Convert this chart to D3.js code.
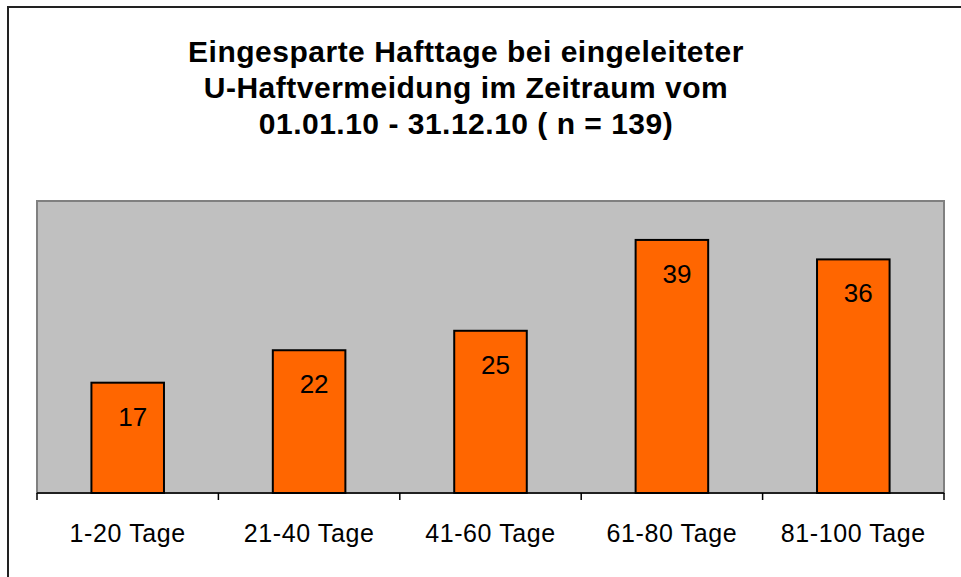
<!DOCTYPE html>
<html lang="de">
<head>
    <meta charset="UTF-8">
    <title>Eingesparte Hafttage</title>
    <script src="https://d3js.org/d3.v7.min.js"></script>
    <style>
        body { margin: 0; background: #fff; }
        svg { display: block; font-family: Arial, "Liberation Sans", sans-serif; }
    </style>
</head>
<body>
    <svg id="chart" width="961" height="577"></svg>
    <script>
        // Data
        var categories = ["1-20 Tage", "21-40 Tage", "41-60 Tage", "61-80 Tage", "81-100 Tage"];
        var values = [17, 22, 25, 39, 36];
        var titleLines = [
            "Eingesparte Hafttage bei eingeleiteter",
            "U-Haftvermeidung im Zeitraum vom",
            "01.01.10 - 31.12.10 ( n = 139)"
        ];

        var svg = d3.select("#chart");

        // outer frame (only top + left visible in the picture)
        svg.append("rect")
            .attr("x", 8).attr("y", 7)
            .attr("width", 1000).attr("height", 600)
            .attr("fill", "none")
            .attr("stroke", "#222")
            .attr("stroke-width", 2);

        // plot area
        var plotLeft = 37, plotRight = 944, plotTop = 201, plotBottom = 493;

        var x = d3.scaleBand()
            .domain(categories)
            .range([plotLeft, plotRight]);

        var y = d3.scaleLinear()
            .domain([0, 45])
            .range([plotBottom, plotTop]);

        svg.append("rect")
            .attr("x", plotLeft).attr("y", plotTop)
            .attr("width", plotRight - plotLeft).attr("height", plotBottom - plotTop)
            .attr("fill", "#c0c0c0")
            .attr("stroke", "#808080")
            .attr("stroke-width", 2);

        // bars
        var barW = x.bandwidth() * 0.4;
        svg.append("g")
            .selectAll("rect")
            .data(values)
            .enter()
            .append("rect")
            .attr("x", function(d, i) { return x(categories[i]) + (x.bandwidth() - barW) / 2; })
            .attr("y", function(d) { return y(d); })
            .attr("width", barW)
            .attr("height", function(d) { return plotBottom - y(d); })
            .attr("fill", "#ff6600")
            .attr("stroke", "#000")
            .attr("stroke-width", 2);

        // value labels
        svg.append("g")
            .selectAll("text")
            .data(values)
            .enter()
            .append("text")
            .attr("x", function(d, i) { return x(categories[i]) + x.bandwidth() / 2 + 5; })
            .attr("y", function(d) { return y(d) + 43; })
            .attr("text-anchor", "middle")
            .attr("font-size", 26)
            .attr("fill", "#000")
            .text(function(d) { return d; });

        // x axis: ticks on category boundaries
        var axis = svg.append("g");
        axis.append("line")
            .attr("x1", plotLeft).attr("x2", plotRight)
            .attr("y1", plotBottom).attr("y2", plotBottom)
            .attr("stroke", "#000").attr("stroke-width", 1.5);
        var bounds = categories.map(function(c) { return x(c); }).concat([plotRight]);
        axis.selectAll("line.tick")
            .data(bounds)
            .enter()
            .append("line")
            .attr("class", "tick")
            .attr("x1", function(d) { return d; })
            .attr("x2", function(d) { return d; })
            .attr("y1", plotBottom).attr("y2", plotBottom + 7)
            .attr("stroke", "#000").attr("stroke-width", 1.5);
        axis.selectAll("text")
            .data(categories)
            .enter()
            .append("text")
            .attr("x", function(d) { return x(d) + x.bandwidth() / 2; })
            .attr("y", 542)
            .attr("text-anchor", "middle")
            .attr("font-size", 25)
            .attr("letter-spacing", 0.6)
            .attr("fill", "#000")
            .text(function(d) { return d; });

        // title
        svg.append("g")
            .selectAll("text")
            .data(titleLines)
            .enter()
            .append("text")
            .attr("x", 466)
            .attr("y", function(d, i) { return 62 + i * 36; })
            .attr("text-anchor", "middle")
            .attr("font-size", 30)
            .attr("letter-spacing", 0.5)
            .attr("font-weight", "bold")
            .attr("fill", "#000")
            .text(function(d) { return d; });
    </script>
</body>
</html>
